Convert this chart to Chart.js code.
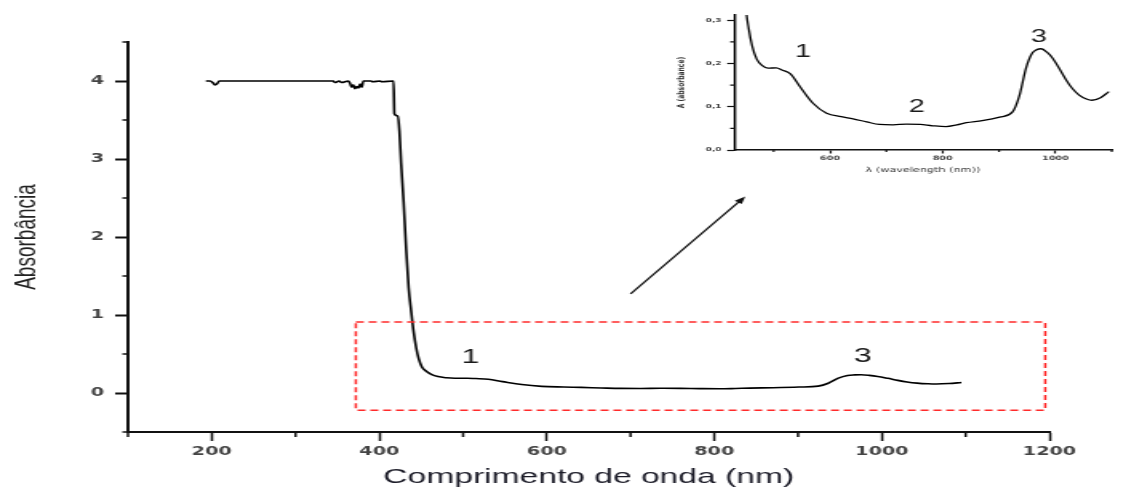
<!DOCTYPE html>
<html>
<head>
<meta charset="utf-8">
<script src="https://cdn.jsdelivr.net/npm/chart.js@4.4.1/dist/chart.umd.min.js"></script>
<style>
html,body{margin:0;padding:0;background:#fff;overflow:hidden}
#wrap{position:relative;width:1123px;height:491px}
canvas{position:absolute;top:0}
</style>
</head>
<body>
<div id="wrap">
<!-- the original figure is stretched sideways, so the canvases are drawn narrow and widened by css -->
<canvas id="main" width="702" height="491" style="left:0;width:1123px;height:491px"></canvas>
<canvas id="inset" width="279" height="180" style="left:676px;width:447px;height:180px"></canvas>
</div>
<script>
// spectrum
const wavelength=[193,198,202,204,206,209,213,300,345,347,352,355,363,365,367,369,371,373,375,377,379,381,390,392,401,403,
  417,418,422,424,426,429,432,435,438,441,444,447,451,456,462,470,480,490,505,515,530,547,570,594,620,641,665,688,712,736,
  760,782,806,825,842,870,901,924,936,948,959,967,975,985,995,1007,1019,1030,1042,1055,1065,1080,1095];
const absorbance=[4.0,4.0,3.97,3.95,3.96,4.0,4.0,4.0,4.0,3.98,4.0,3.98,4.0,3.97,3.92,3.95,3.9,3.93,3.91,3.96,3.92,4.0,4.0,3.99,4.0,3.99,
  4.0,3.58,3.55,3.36,2.95,2.45,1.85,1.35,1.05,0.78,0.58,0.44,0.33,0.28,0.24,0.21,0.195,0.189,0.19,0.185,0.176,0.146,0.108,0.085,0.077,0.072,0.065,0.059,0.058,0.06,
  0.059,0.056,0.054,0.058,0.063,0.068,0.076,0.088,0.125,0.19,0.224,0.232,0.234,0.226,0.212,0.188,0.162,0.142,0.127,0.118,0.115,0.121,0.135];

const xTicks=[200,400,600,800,1000,1200];
const xMinor=[100,300,500,700,900,1100];
const yTicks=[0,1,2,3,4];
const yMinor=[-0.5,0.5,1.5,2.5,3.5,4.5];
const insetXTicks=[600,800,1000];
const insetXMinor=[500,700,900,1100];
const insetYTicks=[0,0.1,0.2,0.3];
const insetYMinor=[0.05,0.15,0.25];

const peakLabels=['1','3'];
const peakX=[509,977];
const peakY=[0.46,0.47];
const insetPeakLabels=['1','2','3'];
const insetPeakX=[552,754,971];
const insetPeakY=[0.226,0.099,0.261];

// red box around the zoomed part and the arrow to the inset (data units)
const boxX=[372,1195], boxY=[-0.22,0.91];
const arrowX=[700,837], arrowY=[1.27,2.52];

const points=wavelength.map((w,i)=>({x:w,y:absorbance[i]}));

const minorTicks={id:'minorTicks',afterDraw(chart,args,o){
  const ctx=chart.ctx, xs=chart.scales.x, ys=chart.scales.y;
  ctx.save(); ctx.strokeStyle='#111'; ctx.lineWidth=o.width;
  ctx.beginPath();
  o.xs.forEach(v=>{const p=xs.getPixelForValue(v); ctx.moveTo(p,xs.top); ctx.lineTo(p,xs.top+o.lenX);});
  o.ys.forEach(v=>{const p=ys.getPixelForValue(v); ctx.moveTo(ys.right,p); ctx.lineTo(ys.right-o.lenY,p);});
  ctx.stroke(); ctx.restore();
}};

const peakText={id:'peakText',afterDatasetsDraw(chart,args,o){
  const ctx=chart.ctx, xs=chart.scales.x, ys=chart.scales.y;
  ctx.save(); ctx.fillStyle='#1a1a1a'; ctx.font=o.font; ctx.textAlign='center'; ctx.textBaseline='middle';
  o.labels.forEach((t,i)=>ctx.fillText(t,xs.getPixelForValue(o.px[i]),ys.getPixelForValue(o.py[i])));
  ctx.restore();
}};

const boxArrow={id:'boxArrow',afterDatasetsDraw(chart){
  const ctx=chart.ctx, xs=chart.scales.x, ys=chart.scales.y;
  ctx.save();
  ctx.strokeStyle='#ff2a2a'; ctx.lineWidth=1.5; ctx.setLineDash([5,3]);
  const bx0=xs.getPixelForValue(boxX[0]), bx1=xs.getPixelForValue(boxX[1]);
  const by0=ys.getPixelForValue(boxY[0]), by1=ys.getPixelForValue(boxY[1]);
  ctx.strokeRect(bx0,by1,bx1-bx0,by0-by1);
  ctx.setLineDash([]);
  const ax0=xs.getPixelForValue(arrowX[0]), ay0=ys.getPixelForValue(arrowY[0]);
  const ax1=xs.getPixelForValue(arrowX[1]), ay1=ys.getPixelForValue(arrowY[1]);
  const a=Math.atan2(ay1-ay0,ax1-ax0);
  ctx.strokeStyle='#111'; ctx.fillStyle='#111'; ctx.lineWidth=1.3;
  ctx.beginPath(); ctx.moveTo(ax0,ay0); ctx.lineTo(ax1-5*Math.cos(a),ay1-5*Math.sin(a)); ctx.stroke();
  ctx.beginPath(); ctx.moveTo(ax1,ay1);
  ctx.lineTo(ax1-8*Math.cos(a-0.35),ay1-8*Math.sin(a-0.35));
  ctx.lineTo(ax1-8*Math.cos(a+0.35),ay1-8*Math.sin(a+0.35));
  ctx.closePath(); ctx.fill();
  ctx.restore();
}};

new Chart(document.getElementById('main'),{
  type:'line',
  data:{datasets:[{data:points,borderColor:'#000',borderWidth:1.6,pointRadius:0,cubicInterpolationMode:'monotone'}]},
  options:{
    responsive:false, animation:false, devicePixelRatio:1,
    layout:{padding:{left:0,top:42,right:46,bottom:0}},
    plugins:{legend:{display:false},tooltip:{enabled:false},
      minorTicks:{xs:xMinor,ys:yMinor,lenX:5,lenY:3.5,width:1.5},
      peakText:{labels:peakLabels,px:peakX,py:peakY,font:'20px "Liberation Sans", Arial, sans-serif'}},
    scales:{
      x:{type:'linear',min:100,max:1200,
        afterBuildTicks:s=>{s.ticks=xTicks.map(v=>({value:v}));},
        afterFit:s=>{s.height=59;},
        border:{display:true,color:'#111',width:2},
        grid:{drawOnChartArea:false,tickLength:9,tickColor:'#111',tickWidth:1.5},
        ticks:{color:'#444',font:{family:'DejaVu Sans',size:12,weight:'bold'},padding:4,maxRotation:0,autoSkip:false,
          callback:v=>String(v)},
        title:{display:true,text:'Comprimento de onda (nm)',color:'#1c1c28',font:{family:'Liberation Sans',size:21},padding:{top:0,bottom:1}}
      },
      y:{type:'linear',min:-0.5,max:4.5,
        afterBuildTicks:s=>{s.ticks=yTicks.map(v=>({value:v}));},
        afterFit:s=>{s.width=80;},
        border:{display:true,color:'#111',width:2},
        grid:{drawOnChartArea:false,tickLength:8,tickColor:'#111',tickWidth:2},
        ticks:{color:'#444',font:{family:'DejaVu Sans',size:12,weight:'bold'},padding:7,autoSkip:false,
          callback:v=>String(v)},
        title:{display:true,text:'Absorbância',color:'#222',font:{family:'Liberation Sans',size:19},padding:{top:5,bottom:0}}
      }
    }
  },
  plugins:[minorTicks,peakText,boxArrow]
});

new Chart(document.getElementById('inset'),{
  type:'line',
  data:{datasets:[{data:points,borderColor:'#000',borderWidth:1.3,pointRadius:0,cubicInterpolationMode:'monotone'}]},
  options:{
    responsive:false, animation:false, devicePixelRatio:1,
    layout:{padding:{left:0,top:15,right:7,bottom:0}},
    plugins:{legend:{display:false},tooltip:{enabled:false},
      minorTicks:{xs:insetXMinor,ys:insetYMinor,lenX:2,lenY:2.5,width:1.2},
      peakText:{labels:insetPeakLabels,px:insetPeakX,py:insetPeakY,font:'18px "Liberation Sans", Arial, sans-serif'}},
    scales:{
      x:{type:'linear',min:430,max:1100,
        afterBuildTicks:s=>{s.ticks=insetXTicks.map(v=>({value:v}));},
        afterFit:s=>{s.height=30;},
        border:{display:true,color:'#111',width:1.5},
        grid:{drawOnChartArea:false,tickLength:3.5,tickColor:'#111',tickWidth:1.2},
        ticks:{color:'#444',font:{family:'DejaVu Sans',size:6,weight:'bold'},padding:1,maxRotation:0,autoSkip:false,
          callback:v=>String(v)},
        title:{display:true,text:'λ (wavelength (nm))',color:'#333',font:{family:'DejaVu Sans',size:7},padding:{top:0,bottom:6}}
      },
      y:{type:'linear',min:0,max:0.312,
        afterBuildTicks:s=>{s.ticks=insetYTicks.map(v=>({value:v}));},
        afterFit:s=>{s.width=36.25;},
        border:{display:true,color:'#111',width:1.5},
        grid:{drawOnChartArea:false,tickLength:4.4,tickColor:'#111',tickWidth:1.2},
        ticks:{color:'#444',font:{family:'DejaVu Sans',size:5.5,weight:'bold'},padding:3.5,autoSkip:false,
          callback:v=>v.toFixed(1).replace('.',',')},
        title:{display:true,text:'A (absorbance)',color:'#333',font:{family:'DejaVu Sans',size:6,weight:'bold'},padding:{top:0,bottom:0}}
      }
    }
  },
  plugins:[minorTicks,peakText]
});
</script>
</body>
</html>
